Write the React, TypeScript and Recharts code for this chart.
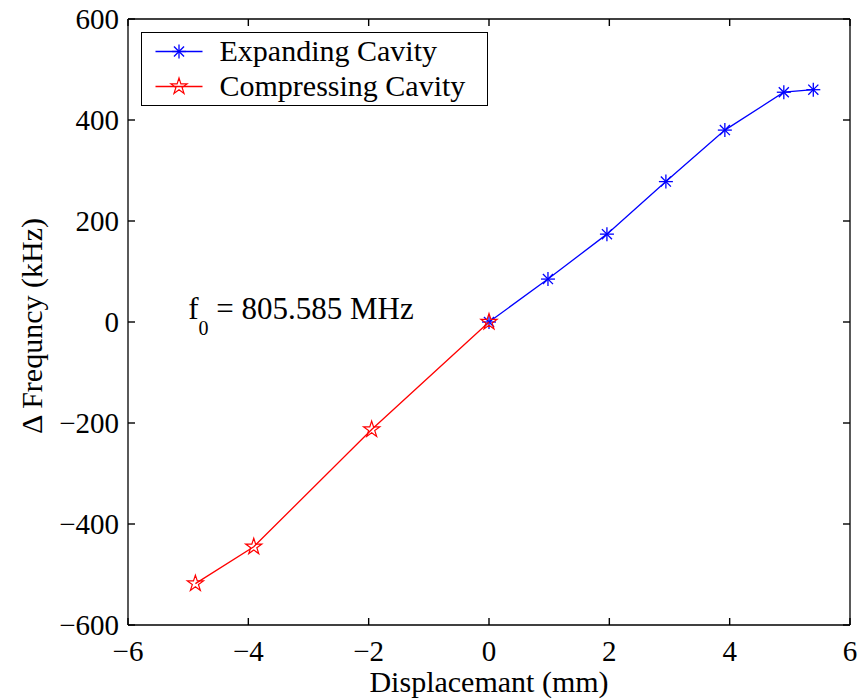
import React from 'react';
import { ScatterChart, Scatter, XAxis, YAxis, Legend, ReferenceDot } from 'recharts';

// ---- data ----
const expandingX = [0, 0.98, 1.96, 2.94, 3.92, 4.9, 5.39];
const expandingY = [0, 85, 174, 278, 380, 455, 460];
const compressingX = [-4.88, -3.91, -1.95, 0];
const compressingY = [-518, -445, -213, 0];
const xTicks = [-6, -4, -2, 0, 2, 4, 6];
const yTicks = [-600, -400, -200, 0, 200, 400, 600];
const seriesNames = ['Expanding Cavity', 'Compressing Cavity'];
const seriesColors = ['#0000ff', '#ff0000'];
const xLabel = 'Displacemant (mm)';
const yLabel = '\u0394 Frequncy (kHz)';
const annotationPos = { x: -5, y: 0 };
const annotationBase = 'f';
const annotationSub = '0';
const annotationRest = ' = 805.585 MHz';

const expandingData = expandingX.map((x, i) => ({ x, y: expandingY[i] }));
const compressingData = compressingX.map((x, i) => ({ x, y: compressingY[i] }));

const FONT = "'Liberation Serif', 'Times New Roman', Times, serif";
const TICK = 7;
const TICK_FS = 29;
const LABEL_FS = 30;
const LEGEND_FS = 30;

const txt = (fs: number) => ({ fontFamily: FONT, fontSize: fs, fill: '#000', stroke: 'none' });

const fmt = (v: number) => String(v).replace('-', '\u2212');

const Asterisk = ({ cx, cy, color, r = 7 }: any) => {
  const d = r * 0.72;
  return (
    <g stroke={color} strokeWidth={1.3} fill="none">
      <line x1={cx} y1={cy - r} x2={cx} y2={cy + r} />
      <line x1={cx - r} y1={cy} x2={cx + r} y2={cy} />
      <line x1={cx - d} y1={cy - d} x2={cx + d} y2={cy + d} />
      <line x1={cx - d} y1={cy + d} x2={cx + d} y2={cy - d} />
    </g>
  );
};

const Pentagram = ({ cx, cy, color, r = 8.5 }: any) => {
  const inner = r * 0.382;
  const pts: string[] = [];
  for (let i = 0; i < 10; i++) {
    const rad = i % 2 === 0 ? r : inner;
    const a = -Math.PI / 2 + (i * Math.PI) / 5;
    pts.push(`${cx + rad * Math.cos(a)},${cy + rad * Math.sin(a)}`);
  }
  return <polygon points={pts.join(' ')} stroke={color} strokeWidth={1.2} fill="none" />;
};

const markerFor = (idx: number, cx: number, cy: number) =>
  idx === 0 ? <Asterisk cx={cx} cy={cy} color={seriesColors[0]} /> : <Pentagram cx={cx} cy={cy} color={seriesColors[1]} />;

const tickLineStyle = { stroke: '#000', strokeWidth: 1.4 };

const BottomTick = (p: any) => (
  <text x={p.x} y={p.y + 36} textAnchor="middle" style={txt(TICK_FS)}>
    {fmt(p.payload.value)}
  </text>
);
const LeftTick = (p: any) => (
  <text x={p.x - 9} y={p.y + TICK_FS * 0.34} textAnchor="end" style={txt(TICK_FS)}>
    {fmt(p.payload.value)}
  </text>
);
const NoLabel = () => <g />;

const renderLegend = (props: any) => {
  const payload = [...(props.payload || [])]
    .filter((e: any) => seriesNames.indexOf(e.value) >= 0)
    .sort((a: any, b: any) => seriesNames.indexOf(a.value) - seriesNames.indexOf(b.value));
  return (
    <div style={{ width: 347, height: 74, border: '1.5px solid #000', background: '#fff', boxSizing: 'border-box' }}>
      <svg width={344} height={71} style={{ display: 'block' }}>
        {payload.map((e: any, i: number) => {
          const idx = seriesNames.indexOf(e.value);
          const cy = 18.5 + i * 35;
          const color = seriesColors[idx];
          return (
            <g key={i}>
              <line x1={13.5} y1={cy} x2={60.5} y2={cy} stroke={color} strokeWidth={1.3} />
              {markerFor(idx, 37, cy)}
              <text x={77.5} y={cy + 9.5} style={txt(LEGEND_FS)}>
                {e.value}
              </text>
            </g>
          );
        })}
      </svg>
    </div>
  );
};

const xLabelContent = (props: any) => {
  const vb = props.viewBox;
  return (
    <text x={vb.x + vb.width / 2} y={vb.y + 67} textAnchor="middle" style={txt(LABEL_FS)}>
      {xLabel}
    </text>
  );
};
const yLabelContent = (props: any) => {
  const vb = props.viewBox;
  const cx = 42;
  const cy = vb.y + vb.height / 2 + 4;
  return (
    <text x={cx} y={cy} transform={`rotate(-90, ${cx}, ${cy})`} textAnchor="middle" style={txt(LABEL_FS)}>
      {yLabel}
    </text>
  );
};
const annotationContent = (props: any) => {
  const vb = props.viewBox;
  const x = vb.x + (vb.width || 0) / 2;
  const y = vb.y + (vb.height || 0) / 2 - 3;
  return (
    <text x={x} y={y} style={{ ...txt(31), whiteSpace: 'pre' }}>
      {annotationBase}
      <tspan fontSize={20} dy={16}>{annotationSub}</tspan>
      <tspan dy={-16}>{annotationRest}</tspan>
    </text>
  );
};

const axisCommon = {
  type: 'number' as const,
  interval: 0 as const,
  allowDataOverflow: true,
  tickSize: -TICK,
  tickMargin: TICK,
  tickLine: tickLineStyle,
  axisLine: { stroke: '#000', strokeWidth: 1.3 },
};

export default function App() {
  return (
    <div style={{ position: 'absolute', left: 0, top: 0, width: 861, height: 699, background: '#fff', fontFamily: FONT }}>
      <ScatterChart width={861} height={699} margin={{ top: 18, right: 10, bottom: 0, left: 0 }} style={{ fontFamily: FONT }}>
        <XAxis
          {...axisCommon}
          xAxisId="bottom"
          dataKey="x"
          domain={[-6, 6]}
          ticks={xTicks}
          height={74}
          tick={BottomTick}
          label={{ content: xLabelContent }}
        />
        <XAxis
          {...axisCommon}
          xAxisId="top"
          orientation="top"
          dataKey="x"
          domain={[-6, 6]}
          ticks={xTicks}
          height={1}
          tick={NoLabel}
        />
        <YAxis
          {...axisCommon}
          yAxisId="left"
          dataKey="y"
          domain={[-600, 600]}
          ticks={yTicks}
          width={128}
          tick={LeftTick}
          label={{ content: yLabelContent }}
        />
        <YAxis
          {...axisCommon}
          yAxisId="right"
          orientation="right"
          dataKey="y"
          domain={[-600, 600]}
          ticks={yTicks}
          width={1}
          tick={NoLabel}
        />
        <Scatter
          name={seriesNames[0]}
          data={expandingData}
          xAxisId="bottom"
          yAxisId="left"
          fill={seriesColors[0]}
          line={{ stroke: seriesColors[0], strokeWidth: 1.3 }}
          lineType="joint"
          shape={(p: any) => markerFor(0, p.cx, p.cy)}
          isAnimationActive={false}
        />
        <Scatter
          name={seriesNames[1]}
          data={compressingData}
          xAxisId="bottom"
          yAxisId="left"
          fill={seriesColors[1]}
          line={{ stroke: seriesColors[1], strokeWidth: 1.3 }}
          lineType="joint"
          shape={(p: any) => markerFor(1, p.cx, p.cy)}
          isAnimationActive={false}
        />
        <Scatter data={expandingData} xAxisId="top" yAxisId="right" fill="none" shape={() => <g />} legendType="none" isAnimationActive={false} />
        <ReferenceDot
          x={annotationPos.x}
          y={annotationPos.y}
          xAxisId="bottom"
          yAxisId="left"
          r={1}
          fill="none"
          stroke="none"
          label={{ content: annotationContent }}
        />
        <Legend
          layout="vertical"
          align="center"
          verticalAlign="middle"
          content={renderLegend}
          wrapperStyle={{ left: 141, top: 32, width: 347, height: 74 }}
        />
      </ScatterChart>
    </div>
  );
}
